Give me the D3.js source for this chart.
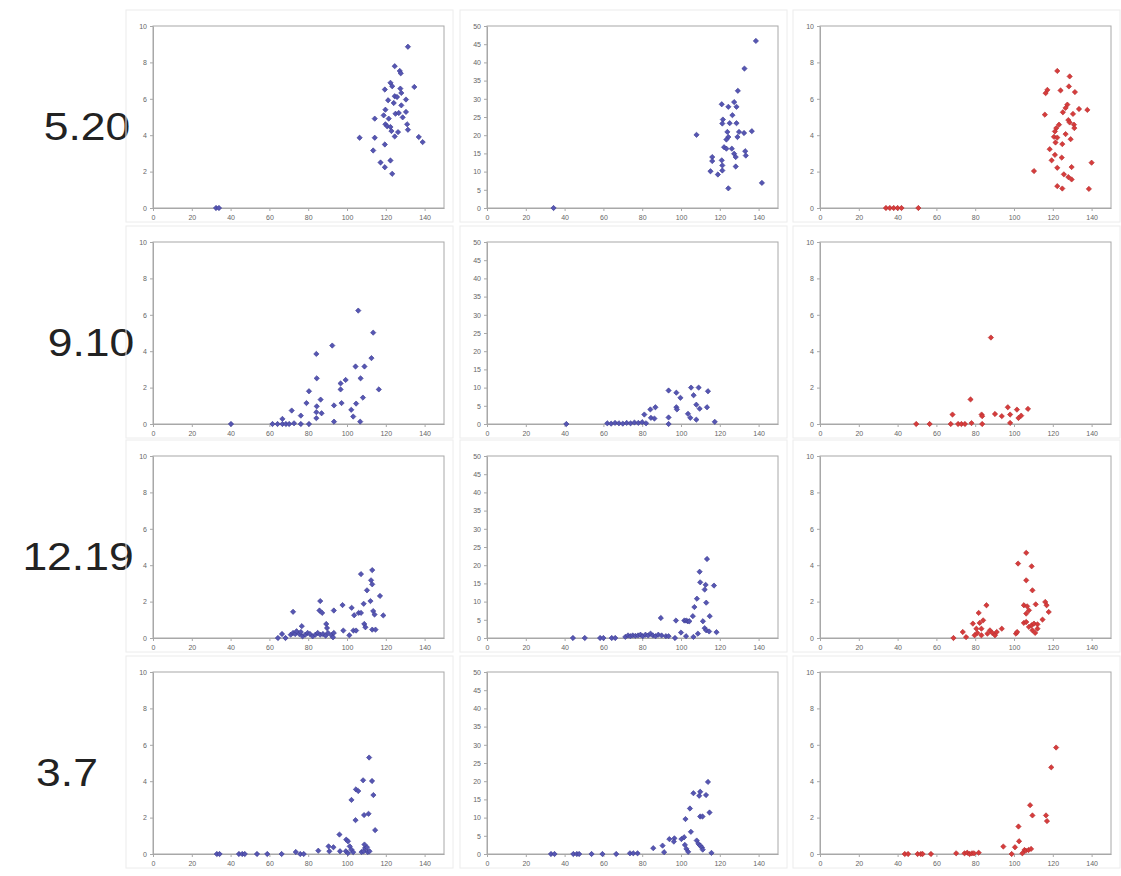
<!DOCTYPE html>
<html>
<head>
<meta charset="utf-8">
<script src="https://d3js.org/d3.v7.min.js"></script>
<style>
  body { margin: 0; background: #fff; }
  text { font-family: "Liberation Sans", Arial, sans-serif; }
</style>
</head>
<body>
<div id="my_dataviz"></div>
<script>

// row labels (dates) and axis ticks
var dates = ["5.20", "9.10", "12.19", "3.7"];
var xTicks = [0, 20, 40, 60, 80, 100, 120, 140];
var yTicksSmall = [0, 2, 4, 6, 8, 10];
var yTicksLarge = [0, 5, 10, 15, 20, 25, 30, 35, 40, 45, 50];

// --- 5.20 ---
var r1a = [[32.5,0],[34,0],[131.4,8.86],[124.6,7.79],[127.2,7.53],[127.7,7.4],[122.4,6.88],[119.5,6.51],[123.3,6.69],
  [127.5,6.56],[128,6.32],[134.7,6.65],[124.6,6.14],[130.4,5.96],[124.1,5.77],[128,5.64],[119.8,5.4],[118.9,5.09],
  [125,5.18],[126.7,5.22],[130.4,5.28],[114.3,4.91],[121.5,4.91],[119.8,4.6],[120.7,4.49],[122.4,4.45],[131,4.6],
  [131.4,4.3],[126.3,4.17],[124.6,3.93],[106.5,3.86],[114.3,3.86],[137,3.9],[139,3.62],[119.5,3.49],[113.5,3.16],
  [117.3,2.5],[122.4,2.61],[119.5,2.24],[123.3,1.88],[121.2,5.92],[125.8,6.1],[122.9,4.23],[128.7,4.98]];
var r1b = [[34.3,0],[138.6,45.9],[132.7,38.3],[129.3,32.2],[121,28.5],[127.4,29.1],[124.4,27.8],[128.6,27.8],
  [126.5,25.5],[121.6,24.3],[121.3,23.2],[125.1,23.3],[128.6,23.3],[108,20.1],[123.9,20.9],[129.9,20.9],[132.5,20.6],
  [136.5,21.1],[124.4,19.5],[123.4,18.8],[129.1,19.5],[122.2,16.7],[123.4,16.3],[126.2,16.3],[127.4,14.9],[128.2,14],
  [133.1,15.6],[133.4,14.4],[116.1,14],[116.1,12.9],[121,13.1],[121.3,11.7],[121.3,10.3],[128.2,11.4],[115.2,10.1],
  [119,9.2],[141.7,6.9],[124.4,5.4]];
var r1c = [[34,0],[36,0],[38,0],[40,0],[42,0],[50.7,0],[122.3,7.53],[128.7,7.23],[116.3,6.31],[117.2,6.49],[124,6.46],
  [128.3,6.68],[131.4,6.37],[133.5,5.44],[137.8,5.39],[127.5,5.68],[126.6,5.5],[125.2,5.26],[130.4,5.17],[115.9,5.13],
  [128,4.83],[128.7,4.7],[130.9,4.58],[131.1,4.39],[123.2,4.58],[121.8,4.39],[121.1,4.21],[126.6,4.06],[120.6,3.91],
  [122.3,3.87],[121.4,3.6],[129.2,3.78],[124.9,3.51],[118.4,3.23],[121.1,2.92],[124.6,2.77],[119.4,2.62],[140,2.49],
  [129.7,2.25],[122.3,2.21],[110.3,2.03],[125.7,1.85],[128,1.7],[129.7,1.57],[122.3,1.2],[124.9,1.07],[138.6,1.05]];

// --- 9.10 ---
var r2a = [[40.2,0],[61.6,0],[64.2,0],[66.7,0],[68.5,0],[70.2,0],[72.7,0.04],[76.2,0],[80.4,0],[66.7,0.28],[71.5,0.74],
  [76.2,0.46],[105.8,6.23],[113.5,5.02],[92.4,4.31],[112.6,3.62],[84.2,3.85],[104.4,3.16],[109,3.16],[84.4,2.51],
  [107,2.51],[99.3,2.42],[96.7,2.23],[96.7,1.9],[116.4,1.9],[80.4,1.8],[86.4,1.34],[108.2,1.45],[79.1,1.15],[97.2,1.15],
  [104.7,1.12],[93.3,1.02],[84.4,0.97],[102.2,0.78],[84.2,0.65],[86.9,0.59],[103.2,0.41],[84.2,0.32],[93.3,0.13],[106.8,0.13]];
var r2b = [[40.9,0],[62,0.2],[64,0.1],[66,0.3],[68,0.2],[70,0.1],[72,0.3],[74,0.2],[76,0.4],[78,0.3],[80,0.5],[82,0.2],
  [81.1,2.6],[84.2,4],[86.8,4.6],[84.5,1.7],[86.3,1.5],[93.6,9.2],[97.6,8.6],[99.7,7.2],[93.6,1.8],[93.6,0],[97.6,4.6],
  [97.9,4],[105.2,10],[109.1,10],[106.5,7.9],[113.9,9],[107.9,5.3],[109.6,4.2],[113.4,4.6],[103.6,2.8],[104.8,1.7],
  [107.9,1.2],[117.4,0.6]];
var r2c = [[49.6,0],[56.5,0],[67.4,0],[71.2,0],[72.9,0],[74.7,0],[78.1,0.05],[83.6,0],[68.3,0.52],[77.6,1.35],[83.3,0.52],
  [83.6,0.43],[88.1,4.75],[90.2,0.55],[93.7,0.43],[96.8,0.92],[98,0.52],[98,0.06],[101.5,0.79],[102.3,0.33],[103.7,0.46],
  [107.2,0.83]];

// --- 12.19 ---
var r3a = [[64.4,0],[66.5,0.22],[68.3,0],[72.2,1.44],[71,0.18],[72.2,0.28],[73.3,0.22],[74,0.37],[75.4,0.22],[76.2,0.33],
  [77.1,0.09],[78.5,0.18],[79.7,0.28],[80.9,0.22],[82.3,0.09],[83.7,0.18],[84.9,0.28],[86.2,0.18],[87.6,0.22],[89,0.13],
  [90.2,0.28],[92,0.15],[92.8,0.04],[76.7,0.65],[85.8,1.51],[86.2,2.03],[87.2,1.38],[89.3,0.77],[89.7,0.55],[93.2,1.51],
  [93.2,0.28],[97.7,1.81],[98.1,0.41],[101.2,0.15],[102.4,1.66],[103.3,0.41],[104.7,0.41],[103.7,1.25],[106,1.38],
  [107.2,1.38],[107.2,3.51],[108.6,1.88],[108.9,0.77],[109.5,0.59],[110.3,2.62],[112.1,2.03],[113,3.73],[112.4,3.17],
  [113,2.95],[113.5,1.48],[114.2,1.29],[113,0.46],[114.7,0.46],[117,2.31],[118.7,1.24]];
var r3b = [[44.3,0],[50.4,0],[58.3,0],[60,0],[64.3,0],[66.1,0],[71.3,0.3],[72.7,0.7],[73.9,0.5],[75.1,0.7],[76.5,0.6],
  [77.9,0.7],[79.1,0.9],[80.3,0.5],[81.7,0.9],[83.1,0.7],[84.3,1.2],[85.5,0.7],[86.9,0.5],[88.3,0.9],[90,0.7],[92.2,0.5],
  [89.6,5.5],[93.6,0.5],[96.9,0],[97.4,4.8],[100,1.5],[101.7,4.8],[102.6,4.8],[103.5,4.6],[104.3,4.6],[102.6,0.5],
  [106.9,8.5],[106.1,6],[106.4,0.3],[108.2,10.8],[108.7,1.2],[109.6,18.2],[109.9,15.3],[111.3,4.6],[112.2,2.7],
  [112.2,13.3],[112.7,14.6],[113,9.7],[113,2.1],[113.4,21.7],[114.5,1.8],[114.8,6],[117,14.4],[118.3,1.6]];
var r3c = [[68.8,0],[73.6,0.33],[75.3,0.05],[78.8,0.79],[79.7,0.15],[81.1,0.28],[81.8,1.38],[82.3,0.83],[80.6,0.51],
  [83.2,0.51],[84.1,0.97],[83.2,0.15],[85.8,1.8],[86.3,0.24],[87.6,0.42],[88.8,0.28],[90.2,0.15],[91.1,0.33],[93.7,0.51],
  [101,0.24],[101.6,0.33],[102.1,4.09],[106.3,4.68],[109.1,3.94],[106.3,3.17],[109.5,2.62],[105.1,1.8],[106.8,1.74],
  [107.7,1.52],[106.3,1.34],[111.2,1.85],[116.1,1.98],[116.8,1.8],[117.9,1.43],[114.7,1.01],[105.1,0.83],[106.3,0.88],
  [107.7,0.61],[109.1,0.7],[110.3,0.79],[112.1,0.75],[109.5,0.42],[110.9,0.28],[112.1,0.51]];

// --- 3.7 ---
var r4a = [[32.9,0],[34.3,0],[44.3,0],[46,0],[47.3,0],[53.6,0],[58.9,0],[66.3,0],[73.6,0.11],[75.9,0],[77.7,0],[85.2,0.18],
  [90.5,0.42],[93,0.37],[90.9,0.15],[96.1,1.07],[96.4,0.15],[99.6,0.79],[100.5,0.7],[101.4,0.42],[102.3,0.24],[99.4,0.15],
  [100.5,0.05],[103.2,0.1],[102.3,2.97],[104.6,3.55],[105.8,3.46],[104.4,1.86],[108.3,4.05],[108.8,2.14],[111.1,2.21],
  [111.4,5.3],[112.9,4.01],[113.6,3.24],[114.5,1.31],[107.5,0.11],[108.6,0.15],[109.3,0.33],[110.3,0.37],[110.7,0.11],
  [111.6,0.15],[109,0.52]];
var r4b = [[33,0],[34.8,0],[44.5,0],[46.3,0],[47.5,0],[53.9,0],[59.5,0],[66.6,0],[73.7,0.2],[75.4,0.2],[77.6,0.2],
  [85.7,1.6],[90.5,2.3],[91.3,0.5],[94,4.1],[96.6,4.3],[96.3,3.4],[100.2,4.1],[101.6,4.6],[102.3,9.6],[105.1,6.1],
  [104.6,12.5],[106.4,16.7],[109.4,16],[109.9,17.1],[112.9,16.2],[113.9,19.8],[114.7,11.4],[109.9,10.3],[111.1,10.3],
  [102,2.5],[102.8,1.4],[103.7,0.6],[108.1,3.7],[109,2.8],[109.9,2.3],[110.8,1.8],[111.2,1.2],[115.7,0.3]];
var r4c = [[43.7,0],[45.4,0],[50.3,0],[52,0],[52.9,0],[57.2,0],[70.2,0.04],[74.5,0.04],[75.9,0.07],[77.1,0],[78.3,0.04],
  [79.4,0.04],[81.8,0.07],[94.5,0.41],[100.5,0.37],[98.8,0],[102.3,1.51],[102.6,0.7],[104.3,0.04],[105.4,0.22],
  [106.1,0.18],[107.5,0.22],[108.8,0.28],[108.3,2.68],[109.5,2.12],[116.5,2.12],[117,1.81],[119.2,4.76],[121.7,5.85]];

var panels = [
  [r1a, r1b, r1c],
  [r2a, r2b, r2c],
  [r3a, r3b, r3c],
  [r4a, r4b, r4c]
];

// layout
var colLeft = [153, 487, 820],
    rowTop = [26, 242, 456, 672],
    labelX = [87, 91, 78, 67],
    plotW = 291,
    plotH = 182;

var yMax = [10, 50, 10],
    yTickSets = [yTicksSmall, yTicksLarge, yTicksSmall],
    colors = ["#5656b2", "#5656b2", "#d63c3c"],
    strokes = ["#3c3c94", "#3c3c94", "#b52c2c"];

var svg = d3.select("#my_dataviz")
  .append("svg")
    .attr("width", 1121)
    .attr("height", 876);

svg.append("rect")
  .attr("width", 1121).attr("height", 876)
  .style("fill", "#ffffff");

var x = d3.scaleLinear().domain([0, 150]).range([0, plotW]);
// excel style diamond marker = square turned 45 degrees
var marker = d3.symbol().type(d3.symbolSquare).size(14);

dates.forEach(function(label, r) {

  svg.append("text")
    .attr("transform", "translate(" + labelX[r] + "," + (rowTop[r] + 100) + ") scale(1.14,1)")
    .attr("dominant-baseline", "central")
    .style("text-anchor", "middle")
    .style("font-size", "39px")
    .style("fill", "#222")
    .text(label);

  for (var c = 0; c < 3; c++) {
    var g = svg.append("g")
      .attr("transform", "translate(" + colLeft[c] + "," + rowTop[r] + ")");

    // chart area outline (faint)
    g.append("rect")
      .attr("x", -27).attr("y", -16)
      .attr("width", plotW + 36).attr("height", plotH + 30)
      .style("fill", "none")
      .style("stroke", "#ececec");

    var y = d3.scaleLinear().domain([0, yMax[c]]).range([plotH, 0]);

    g.append("rect")
      .attr("width", plotW).attr("height", plotH)
      .style("fill", "#fff")
      .style("stroke", "#a8a8a8")
      .style("stroke-width", 1);

    var xa = g.append("g")
      .attr("transform", "translate(0," + plotH + ")")
      .call(d3.axisBottom(x).tickValues(xTicks).tickSize(3).tickSizeOuter(0));
    var ya = g.append("g")
      .call(d3.axisLeft(y).tickValues(yTickSets[c]).tickSize(3).tickSizeOuter(0));

    [xa, ya].forEach(function(a) {
      a.select(".domain").style("stroke", "#a8a8a8");
      a.selectAll(".tick line").style("stroke", "#a8a8a8");
      a.selectAll(".tick text")
        .style("font-size", "7px")
        .style("fill", "#666")
        .style("font-family", "'Liberation Sans', Arial, sans-serif");
    });
    xa.selectAll(".tick text").attr("dy", "0.9em");

    g.append("g")
      .selectAll("path")
      .data(panels[r][c])
      .enter().append("path")
        .attr("d", marker)
        .attr("transform", function(d) { return "translate(" + x(d[0]) + "," + y(d[1]) + ") rotate(45)"; })
        .style("fill", colors[c])
        .style("stroke", strokes[c])
        .style("stroke-width", 0.6);
  }
});

</script>
</body>
</html>
